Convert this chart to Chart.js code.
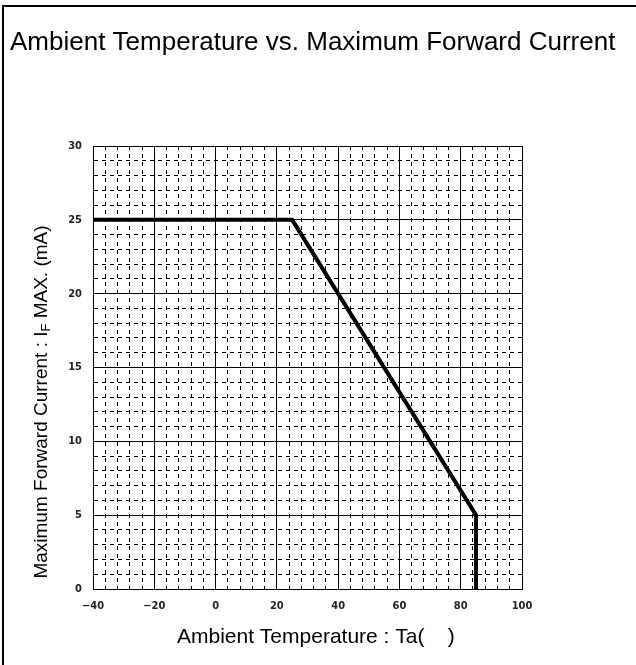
<!DOCTYPE html>
<html>
<head>
<meta charset="utf-8">
<script src="https://cdn.jsdelivr.net/npm/chart.js@4/dist/chart.umd.min.js"></script>
<style>
  html, body { margin: 0; padding: 0; background: #fff; }
  #wrap { width: 636px; height: 665px; position: relative; }
</style>
</head>
<body>
<div id="wrap"><canvas id="deratingChart"></canvas></div>
<script>
const temperatures = [-40, 25, 85, 85]
const currents = [25, 25, 5, 0]
const xTickLabels = [-40, -20, 0, 20, 40, 60, 80, 100]
const yTickLabels = [0, 5, 10, 15, 20, 25, 30]
const xMinorStep = 4
const yMinorStep = 1

const TITLE = 'Ambient Temperature vs. Maximum Forward Current'
const X_TITLE = 'Ambient Temperature : Ta(    )'
const FONT = "'Liberation Sans', Arial, sans-serif"
const TICK_FONT = "'Liberation Sans Narrow', 'DejaVu Sans Condensed', sans-serif"

function buildTicks(labels, step) {
  const ticks = []
  const min = labels[0]
  const max = labels[labels.length - 1]
  for (let v = min; v <= max + 1e-9; v += step) ticks.push({ value: v })
  return ticks
}

function isMajor(labels, v) {
  return labels.includes(v)
}

// minor lines are dashed, major ones solid
function gridDash(labels) {
  return (ctx) => {
    if (!ctx.tick) return []
    return isMajor(labels, ctx.tick.value) ? [] : [4, 4]
  }
}

const framePlugin = {
  id: 'frame',
  beforeDraw(chart) {
    const ctx = chart.ctx
    ctx.save()
    ctx.fillStyle = '#fff'
    ctx.fillRect(0, 0, chart.width, chart.height)
    ctx.strokeStyle = '#000'
    ctx.lineWidth = 2
    ctx.beginPath()
    ctx.moveTo(3, chart.height)
    ctx.lineTo(3, 6)
    ctx.lineTo(chart.width, 6)
    ctx.stroke()
    ctx.restore()
  },
  afterDraw(chart) {
    const ctx = chart.ctx
    ctx.save()
    ctx.fillStyle = '#000'
    ctx.textBaseline = 'alphabetic'
    ctx.textAlign = 'left'

    // chart title
    ctx.font = '26px ' + FONT
    ctx.fillText(TITLE, 10, 50)

    // x axis title
    ctx.font = '21px ' + FONT
    ctx.fillText(X_TITLE, 177, 643)

    // y axis title, with subscript F
    const main1 = 'Maximum Forward Current : I'
    const sub = 'F'
    const main2 = ' MAX. (mA)'
    ctx.font = '19px ' + FONT
    const w1 = ctx.measureText(main1).width
    const w3 = ctx.measureText(main2).width
    ctx.font = '13px ' + FONT
    const w2 = ctx.measureText(sub).width
    const total = w1 + w2 + w3
    ctx.translate(47, 402)
    ctx.rotate(-Math.PI / 2)
    let x = -total / 2
    ctx.font = '19px ' + FONT
    ctx.fillText(main1, x, 0)
    x += w1
    ctx.font = '13px ' + FONT
    ctx.fillText(sub, x, 3)
    x += w2
    ctx.font = '19px ' + FONT
    ctx.fillText(main2, x, 0)
    ctx.restore()
  }
}

const tickFont = { family: TICK_FONT, size: 11, weight: 'bold' }

new Chart(document.getElementById('deratingChart'), {
  type: 'scatter',
  data: {
    datasets: [{
      data: temperatures.map((t, i) => ({ x: t, y: currents[i] })),
      showLine: true,
      borderColor: '#000',
      borderWidth: 4,
      borderJoinStyle: 'miter',
      pointRadius: 0,
      fill: false,
      tension: 0,
    }],
  },
  options: {
    responsive: true,
    maintainAspectRatio: false,
    animation: false,
    layout: { padding: { left: 10, right: 114, top: 146, bottom: 0 } },
    plugins: {
      legend: { display: false },
      tooltip: { enabled: false },
      title: { display: false },
    },
    scales: {
      x: {
        type: 'linear',
        min: xTickLabels[0],
        max: xTickLabels[xTickLabels.length - 1],
        afterBuildTicks: (s) => { s.ticks = buildTicks(xTickLabels, xMinorStep) },
        afterFit: (s) => { s.height = 76 },
        ticks: {
          autoSkip: false,
          maxRotation: 0,
          padding: 11,
          color: '#222',
          font: tickFont,
          callback: (v) => isMajor(xTickLabels, v) ? String(v).replace('-', '\u2212') : '',
        },
        grid: { color: '#000', lineWidth: 1, drawTicks: false },
        border: { display: true, color: '#000', width: 1, dash: gridDash(xTickLabels) },
      },
      y: {
        type: 'linear',
        min: yTickLabels[0],
        max: yTickLabels[yTickLabels.length - 1],
        afterBuildTicks: (s) => { s.ticks = buildTicks(yTickLabels, yMinorStep) },
        afterFit: (s) => { s.width = 83 },
        ticks: {
          autoSkip: false,
          padding: 11,
          color: '#222',
          font: tickFont,
          callback: (v) => isMajor(yTickLabels, v) ? String(v) : '',
        },
        grid: { color: '#000', lineWidth: 1, drawTicks: false },
        border: { display: true, color: '#000', width: 1, dash: gridDash(yTickLabels) },
      },
    },
  },
  plugins: [framePlugin],
})
</script>
</body>
</html>
